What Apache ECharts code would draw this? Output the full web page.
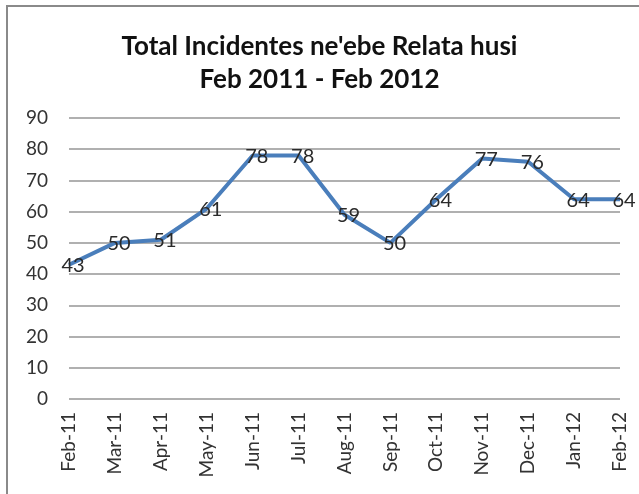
<!DOCTYPE html>
<html>
<head>
<meta charset="utf-8">
<script src="https://cdn.jsdelivr.net/npm/echarts@6/dist/echarts.min.js"></script>
<style>
  html, body { margin: 0; padding: 0; background: #fff; }
  #frame {
    position: absolute; left: 6px; top: 5px; width: 640px; height: 500px;
    border-left: 2px solid #8a8a8a; border-top: 2px solid #8a8a8a;
  }
  #chart { position: absolute; left: 0; top: 0; width: 639px; height: 494px; }
</style>
</head>
<body>
<div id="frame"></div>
<div id="chart"></div>
<script>
// month categories (x axis)
const months = ['Feb-11', 'Mar-11', 'Apr-11', 'May-11', 'Jun-11', 'Jul-11', 'Aug-11',
  'Sep-11', 'Oct-11', 'Nov-11', 'Dec-11', 'Jan-12', 'Feb-12']
// incidents per month
const incidents = [43, 50, 51, 61, 78, 78, 59, 50, 64, 77, 76, 64, 64]
// y axis range
const yMin = 0
const yMax = 90
const yStep = 10

const font = 'Lato, "Open Sans", sans-serif'
const chart = echarts.init(document.getElementById('chart'))

chart.setOption({
  animation: false,
  // title, two lines
  title: {
    text: 'Total Incidentes ne\'ebe Relata husi\nFeb 2011 - Feb 2012',
    left: 'center',
    top: 25,
    textStyle: {
      fontFamily: font,
      fontSize: 26,
      fontWeight: 'bold',
      color: '#111',
      lineHeight: 33
    }
  },
  grid: {
    left: 69,
    right: 19,
    top: 118,
    bottom: 95
  },
  xAxis: {
    type: 'category',
    data: months,
    boundaryGap: false,
    axisLine: { show: false },
    axisTick: { show: false },
    axisLabel: {
      rotate: 90,
      interval: 0,
      margin: 13,
      fontFamily: font,
      fontSize: 19,
      color: '#333'
    }
  },
  yAxis: {
    type: 'value',
    min: yMin,
    max: yMax,
    interval: yStep,
    axisLine: { show: false },
    axisTick: { show: false },
    axisLabel: {
      margin: 21,
      fontFamily: font,
      fontSize: 19,
      color: '#333'
    },
    splitLine: { lineStyle: { color: '#b0b0b0', width: 2 } }
  },
  series: [{
    name: 'Incidentes',
    type: 'line',
    data: incidents,
    // tiny symbol so the value labels get drawn
    symbol: 'circle',
    symbolSize: 1,
    showSymbol: true,
    itemStyle: { color: '#4a7ebb' },
    lineStyle: { color: '#4a7ebb', width: 4 },
    label: {
      show: true,
      position: 'right',
      distance: 0,
      offset: [-8, 1],
      fontFamily: font,
      fontSize: 20,
      color: '#2a2a2a'
    }
  }]
})
</script>
</body>
</html>
